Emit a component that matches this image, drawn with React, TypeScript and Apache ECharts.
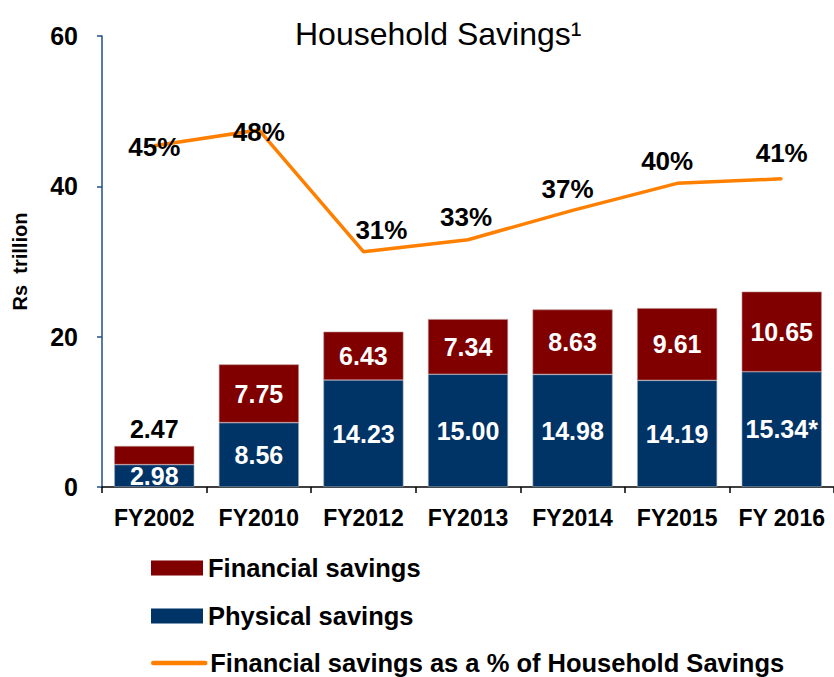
import React, { useEffect, useRef } from "react";
import * as echarts from "echarts";

const categories = ["FY2002", "FY2010", "FY2012", "FY2013", "FY2014", "FY2015", "FY 2016"];
const physicalSavings = [2.98, 8.56, 14.23, 15.0, 14.98, 14.19, 15.34];
const physicalLabels = ["2.98", "8.56", "14.23", "15.00", "14.98", "14.19", "15.34*"];
const financialSavings = [2.47, 7.75, 6.43, 7.34, 8.63, 9.61, 10.65];
const financialLabels = ["2.47", "7.75", "6.43", "7.34", "8.63", "9.61", "10.65"];
const financialShare = [45.4, 47.5, 31.3, 32.9, 36.8, 40.4, 41.0];
const financialShareLabels = ["45%", "48%", "31%", "33%", "37%", "40%", "41%"];
const yMin = 0;
const yMax = 60;
const yInterval = 20;

const seriesNames = {
  financial: "Financial savings",
  physical: "Physical savings",
  share: "Financial savings as a % of Household Savings",
};

// label offsets (presentation only)
const shareLabelOffsets: [number, number][] = [
  [0, 1], [0, 2], [18, -22], [-2, -23], [-5, -21], [-10, -22], [0, -26],
];

const FONT = "'Liberation Sans', Arial, Helvetica, sans-serif";
const RED = "#800000";
const NAVY = "#003366";
const ORANGE = "#ff8000";

const legendBase = {
  orient: "vertical",
  left: 151,
  padding: 0,
  itemWidth: 52,
  itemHeight: 15,
  textStyle: { fontFamily: FONT, fontSize: 25.5, fontWeight: "bold", color: "#000" },
};

export default function App() {
  const ref = useRef<HTMLDivElement>(null);
  useEffect(() => {
    if (!ref.current) return;
    const chart = echarts.init(ref.current, undefined, { renderer: "svg" });
    const option: any = {
      animation: false,
      backgroundColor: "#ffffff",
      title: {
        text: "Household Savings\u00b9",
        left: 290,
        top: 13,
        textStyle: { fontFamily: FONT, fontSize: 32, fontWeight: "normal", color: "#000" },
      },
      legend: [
        {
          ...legendBase,
          top: 555,
          data: [{ name: seriesNames.financial, icon: "rect", itemStyle: { borderWidth: 0 } }],
        },
        {
          ...legendBase,
          top: 603,
          data: [{ name: seriesNames.physical, icon: "rect", itemStyle: { borderWidth: 0 } }],
        },
        {
          ...legendBase,
          top: 650,
          data: [
            {
              name: seriesNames.share,
              itemStyle: { opacity: 0 },
              lineStyle: { width: 4.5, color: ORANGE, cap: "round" },
            },
          ],
        },
      ],
      grid: { left: 102, top: 36, right: -3, bottom: 190 },
      xAxis: {
        type: "category",
        data: categories,
        axisLine: { lineStyle: { color: "#000", width: 1.5 } },
        axisTick: { show: true, length: 6, lineStyle: { color: "#000", width: 1.5 } },
        axisLabel: {
          interval: 0,
          margin: 19,
          fontFamily: FONT,
          fontSize: 23,
          fontWeight: "bold",
          color: "#000",
        },
      },
      yAxis: {
        type: "value",
        min: yMin,
        max: yMax,
        interval: yInterval,
        name: "Rs  trillion",
        nameLocation: "middle",
        nameRotate: 90,
        nameGap: 72,
        nameTextStyle: { fontFamily: FONT, fontSize: 20, fontWeight: "bold", color: "#000" },
        splitLine: { show: false },
        axisLine: { show: true, lineStyle: { color: "#1f4e8c", width: 1.5 } },
        axisTick: { show: true, length: 5, lineStyle: { color: "#1f4e8c", width: 1.5 } },
        axisLabel: {
          margin: 24,
          fontFamily: FONT,
          fontSize: 25,
          fontWeight: "bold",
          color: "#000",
        },
      },
      series: [
        {
          name: seriesNames.physical,
          type: "bar",
          stack: "total",
          barWidth: 80,
          itemStyle: { color: NAVY, borderColor: "#9aa7b8", borderWidth: 0.6 },
          label: {
            show: true,
            position: "inside",
            fontFamily: FONT,
            fontSize: 25,
            fontWeight: "bold",
            color: "#fff",
            formatter: (p: any) => physicalLabels[p.dataIndex],
          },
          data: physicalSavings,
        },
        {
          name: seriesNames.financial,
          type: "bar",
          stack: "total",
          barWidth: 80,
          itemStyle: { color: RED, borderColor: "#b88a8a", borderWidth: 0.6 },
          label: {
            show: true,
            position: "inside",
            fontFamily: FONT,
            fontSize: 25,
            fontWeight: "bold",
            color: "#fff",
            formatter: (p: any) => financialLabels[p.dataIndex],
          },
          data: financialSavings.map((v, i) =>
            i === 0
              ? { value: v, label: { position: "top", distance: 5, color: "#000" } }
              : v
          ),
        },
        {
          name: seriesNames.share,
          type: "line",
          symbol: "circle",
          symbolSize: 2,
          itemStyle: { color: ORANGE },
          lineStyle: { color: ORANGE, width: 3.5 },
          z: 5,
          label: {
            show: true,
            position: "inside",
            fontFamily: FONT,
            fontSize: 26,
            fontWeight: "bold",
            color: "#000",
            formatter: (p: any) => financialShareLabels[p.dataIndex],
          },
          data: financialShare.map((v, i) => ({
            value: v,
            label: { offset: shareLabelOffsets[i] },
          })),
        },
      ],
    };
    chart.setOption(option);
    return () => chart.dispose();
  }, []);
  return (
    <div
      ref={ref}
      style={{ position: "fixed", left: 0, top: 0, width: 834, height: 677, background: "#fff" }}
    />
  );
}
